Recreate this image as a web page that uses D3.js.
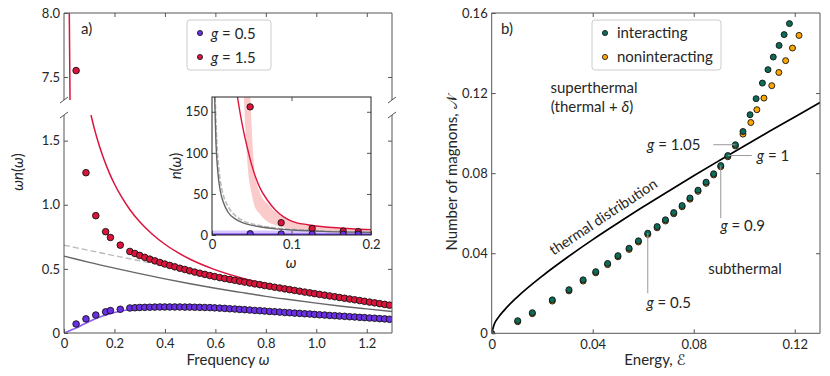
<!DOCTYPE html>
<html lang="en">
<head>
<meta charset="UTF-8">
<title>Magnon distributions</title>
<script src="https://cdn.jsdelivr.net/npm/d3@7"></script>
<style>
  body { margin: 0; background: #fff; }
  text { font-family: Lato, "DejaVu Sans", sans-serif; fill: #262626; }
</style>
</head>
<body>
<svg id="fig" width="830" height="376"></svg>
<script>
// ---------- panel a data ----------
const freq = [0.048, 0.087, 0.126, 0.165, 0.184, 0.223,
  0.261, 0.281, 0.300, 0.320, 0.340, 0.360, 0.380, 0.399, 0.419, 0.439, 0.459, 0.479, 0.498, 0.518,
  0.538, 0.558, 0.578, 0.597, 0.617, 0.637, 0.657, 0.677, 0.696, 0.716, 0.736, 0.756, 0.776, 0.795,
  0.815, 0.835, 0.855, 0.875, 0.894, 0.914, 0.934, 0.954, 0.974, 0.993, 1.013, 1.033, 1.053, 1.073,
  1.092, 1.112, 1.132, 1.152, 1.172, 1.191, 1.211, 1.231, 1.251, 1.271, 1.290];
const redWN = [7.55, 1.25, 0.915, 0.79, 0.745, 0.685,
  0.636, 0.620, 0.605, 0.590, 0.576, 0.563, 0.550, 0.538, 0.527, 0.516, 0.505, 0.495, 0.485, 0.475,
  0.466, 0.457, 0.448, 0.440, 0.432, 0.425, 0.418, 0.411, 0.404, 0.397, 0.390, 0.383, 0.377, 0.370,
  0.364, 0.357, 0.351, 0.344, 0.338, 0.332, 0.326, 0.319, 0.313, 0.307, 0.301, 0.295, 0.289, 0.283,
  0.277, 0.271, 0.265, 0.259, 0.253, 0.247, 0.241, 0.235, 0.229, 0.223, 0.217];
const purpleWN = [0.07, 0.11, 0.14, 0.165, 0.175, 0.185,
  0.195, 0.197, 0.199, 0.200, 0.201, 0.202, 0.203, 0.203, 0.203, 0.203, 0.203, 0.202, 0.202, 0.201,
  0.200, 0.199, 0.198, 0.196, 0.194, 0.192, 0.189, 0.187, 0.184, 0.182, 0.179, 0.176, 0.174, 0.171,
  0.168, 0.166, 0.163, 0.160, 0.158, 0.155, 0.153, 0.150, 0.148, 0.145, 0.142, 0.140, 0.137, 0.135,
  0.132, 0.130, 0.127, 0.125, 0.122, 0.120, 0.117, 0.115, 0.112, 0.110, 0.107];

const purpleLineW = [0, 0.025, 0.05, 0.075, 0.1, 0.15, 0.2, 0.25, 0.3, 0.4, 0.5, 0.6, 0.8, 1.0, 1.2, 1.3];
const purpleLineV = [0, 0.02, 0.04, 0.066, 0.09, 0.13, 0.16, 0.18, 0.19, 0.197, 0.195, 0.188, 0.168, 0.145, 0.12, 0.108];

const grayW = [0, 0.05, 0.1, 0.2, 0.3, 0.4, 0.5, 0.6, 0.7, 0.8, 0.9, 1.0, 1.1, 1.2, 1.3];
const graySolid = [0.6, 0.575, 0.551, 0.506, 0.463, 0.422, 0.384, 0.349, 0.317, 0.286, 0.259, 0.233, 0.209, 0.188, 0.168];
const grayDashed = [0.685, 0.664, 0.644, 0.603, 0.563, 0.525, 0.49, 0.445, 0.41, 0.375, 0.345, 0.31, 0.28, 0.25, 0.22];

const redLineW = [0.107, 0.12, 0.14, 0.16, 0.18, 0.20, 0.23, 0.26, 0.30, 0.35, 0.40, 0.45, 0.50, 0.59, 0.70, 0.80, 0.90, 1.00, 1.10, 1.20, 1.30];
const redLineV = [1.70, 1.596, 1.46, 1.345, 1.247, 1.162, 1.055, 0.965, 0.867, 0.770, 0.692, 0.628, 0.575, 0.50, 0.431, 0.382, 0.344, 0.312, 0.283, 0.256, 0.232];
const redTopW = [0.021, 0.0225, 0.024];
const redTopV = [8.0, 7.65, 7.3];

// inset: n(omega)
const insetW = [0.048, 0.087, 0.126, 0.165, 0.184];
const insetRedN = [156, 15, 8, 4.8, 4.1];
const insetPurpleN = [1.5, 1.3, 1.1, 1.0, 0.95];
const inGrayW = [0.0033, 0.005, 0.0075, 0.01, 0.015, 0.02, 0.03, 0.04, 0.06, 0.08, 0.1, 0.14, 0.2];
const inGrayN = [168, 112, 75, 56, 38, 28, 19, 14.5, 10, 7.5, 6, 4.4, 3.2];
const inDashW = [0.004, 0.006, 0.008, 0.01, 0.015, 0.02, 0.03, 0.04, 0.06, 0.08, 0.1, 0.14, 0.2];
const inDashN = [168, 114, 86, 69, 46, 35, 23, 17, 11.5, 8.6, 7, 5, 3.6];
const inRedW = [0.032, 0.036, 0.040, 0.045, 0.05, 0.055, 0.06, 0.07, 0.08, 0.09, 0.1, 0.12, 0.14, 0.16, 0.18, 0.2];
const inRedN = [168, 145, 125, 104, 85, 70, 58, 42, 30, 22, 17, 12.5, 10, 8.5, 7.3, 6.5];
const bandW = [0.040, 0.043, 0.0457, 0.05, 0.054, 0.06, 0.07, 0.08, 0.1, 0.12, 0.15, 0.2];
const bandLo = [168, 110, 75, 50, 34, 26, 16, 12, 7.5, 6, 4.5, 3.5];
const bandHi = [600, 400, 250, 130, 75, 52, 38, 28, 17, 13, 9, 6];
const purpleBandW = [0, 0.2];
const purpleBandHi = [5.5, 5];
const purpleInLineN = [1.0, 0.85];

// ---------- panel b data ----------
const interE = [0, 0.0103, 0.0161, 0.0240, 0.0306, 0.0362, 0.0412, 0.0459, 0.0500, 0.0544, 0.0581, 0.0618,
  0.0655, 0.0688, 0.0721, 0.0754, 0.0785, 0.0817, 0.0849, 0.0879, 0.0907, 0.0935, 0.0965, 0.0995,
  0.1023, 0.1047, 0.1072, 0.1094, 0.1115, 0.1138, 0.1158, 0.1179];
const interN = [0, 0.0063, 0.0103, 0.0167, 0.0218, 0.0267, 0.0308, 0.0349, 0.0388, 0.0425, 0.0462, 0.0500,
  0.0533, 0.0567, 0.0603, 0.0638, 0.0676, 0.0715, 0.0755, 0.0797, 0.0838, 0.0888, 0.0942, 0.1008,
  0.1092, 0.1172, 0.1250, 0.1317, 0.1380, 0.1438, 0.1492, 0.1547];
const nonE = [0.0103, 0.0161, 0.0240, 0.0306, 0.0362, 0.0412, 0.0459, 0.0500, 0.0544, 0.0581, 0.0618,
  0.0655, 0.0688, 0.0721, 0.0754, 0.0785, 0.0817, 0.0849, 0.0879, 0.0907, 0.0935, 0.0965, 0.0995,
  0.1026, 0.1050, 0.1078, 0.1109, 0.1137, 0.1164, 0.1191, 0.1217];
const nonN = [0.0058, 0.0098, 0.0161, 0.0212, 0.0261, 0.0302, 0.0343, 0.0382, 0.0419, 0.0456, 0.0494,
  0.0527, 0.0561, 0.0597, 0.0632, 0.0670, 0.0709, 0.0749, 0.0791, 0.0832, 0.0882, 0.0936, 0.0995,
  0.1053, 0.1117, 0.1175, 0.1237, 0.1303, 0.1362, 0.1425, 0.1488];
const thermE = [0, 0.001, 0.0025, 0.005, 0.01, 0.02, 0.03, 0.04, 0.05, 0.06, 0.07, 0.08, 0.09, 0.10, 0.11, 0.12, 0.13];
const thermN = [0, 0.0045, 0.0077, 0.0116, 0.0180, 0.0286, 0.0380, 0.0468, 0.0551, 0.0632, 0.0710, 0.0787, 0.0862, 0.0936, 0.1009, 0.1081, 0.1153];

// ---------- setup ----------
const svg = d3.select("#fig");
const PURPLE = "#6b2fe6", RED = "#dc143c", GREEN = "#0e6b58", ORANGE = "#ffa500";
const SPINE = "#555";
const zip = (a, b) => a.map((v, i) => [v, b[i]]);

const defs = svg.append("defs");
function clip(id, x, y, w, h) {
  defs.append("clipPath").attr("id", id).append("rect").attr("x", x).attr("y", y).attr("width", w).attr("height", h);
}
function spine(x1, y1, x2, y2) {
  svg.append("line").attr("x1", x1).attr("y1", y1).attr("x2", x2).attr("y2", y2)
    .attr("stroke", SPINE).attr("stroke-width", 1);
}
function styleAxis(g, labels) {
  g.select(".domain").remove();
  g.selectAll(".tick line").attr("stroke", SPINE);
  g.selectAll(".tick text").style("font-size", "13px").attr("fill", "#262626");
  if (!labels) g.selectAll(".tick text").remove();
}
function dots(g, data, sx, sy, fill, r) {
  g.selectAll(null).data(data).join("circle")
    .attr("cx", d => sx(d[0])).attr("cy", d => sy(d[1])).attr("r", r)
    .attr("fill", fill).attr("stroke", "#111").attr("stroke-width", 0.9);
}
const fmt0 = f => d => d === 0 ? "0" : d3.format(f)(d);

// ---------- panel a ----------
const ax = d3.scaleLinear().domain([0, 1.3]).range([64, 392]);
const ayLow = d3.scaleLinear().domain([0, 1.7]).range([333, 115]);
const ayTop = d3.scaleLinear().domain([7.32, 8.0]).range([100, 13]);
clip("clipLow", 64, 115, 328, 218);
clip("clipTop", 64, 13, 328, 87);

const lineLow = d3.line().x(d => ax(d[0])).y(d => ayLow(d[1])).curve(d3.curveMonotoneX);
const gLow = svg.append("g").attr("clip-path", "url(#clipLow)");
gLow.append("path").attr("d", lineLow(zip(purpleLineW, purpleLineV)))
  .attr("fill", "none").attr("stroke", "#8a5cf5").attr("stroke-width", 1.6);
gLow.append("path").attr("d", lineLow(zip(grayW, graySolid)))
  .attr("fill", "none").attr("stroke", "#666").attr("stroke-width", 1.4);
gLow.append("path").attr("d", lineLow(zip(grayW, grayDashed)))
  .attr("fill", "none").attr("stroke", "#bbb").attr("stroke-width", 1.4).attr("stroke-dasharray", "6,3");
gLow.append("path").attr("d", lineLow(zip(redLineW, redLineV)))
  .attr("fill", "none").attr("stroke", RED).attr("stroke-width", 1.5);
dots(gLow, zip(freq, redWN).filter(d => d[1] < 1.7), ax, ayLow, RED, 3.3);
dots(gLow, zip(freq, purpleWN), ax, ayLow, PURPLE, 3.3);

const gTop = svg.append("g").attr("clip-path", "url(#clipTop)");
gTop.append("path").attr("d", d3.line().x(d => ax(d[0])).y(d => ayTop(d[1]))(zip(redTopW, redTopV)))
  .attr("fill", "none").attr("stroke", RED).attr("stroke-width", 1.5);
dots(gTop, zip(freq, redWN).filter(d => d[1] > 7.32), ax, ayTop, RED, 3.3);

// axes a (inward ticks)
styleAxis(svg.append("g").attr("transform", "translate(0,333)")
  .call(d3.axisBottom(ax).tickValues([0, 0.2, 0.4, 0.6, 0.8, 1.0, 1.2]).tickFormat(fmt0(".1f")).tickSize(-4).tickPadding(6)), true);
styleAxis(svg.append("g").attr("transform", "translate(64,0)")
  .call(d3.axisLeft(ayLow).tickValues([0, 0.5, 1.0, 1.5]).tickFormat(fmt0(".1f")).tickSize(-4).tickPadding(4)), true);
styleAxis(svg.append("g").attr("transform", "translate(392,0)")
  .call(d3.axisRight(ayLow).tickValues([0.5, 1.0, 1.5]).tickSize(-4)), false);
styleAxis(svg.append("g").attr("transform", "translate(64,0)")
  .call(d3.axisLeft(ayTop).tickValues([7.5, 8.0]).tickFormat(d3.format(".1f")).tickSize(-4).tickPadding(4)), true);
styleAxis(svg.append("g").attr("transform", "translate(392,0)")
  .call(d3.axisRight(ayTop).tickValues([7.5]).tickSize(-4)), false);
styleAxis(svg.append("g").attr("transform", "translate(0,13)")
  .call(d3.axisTop(ax).tickValues([0.2, 0.4, 0.6, 0.8, 1.0, 1.2]).tickSize(-4)), false);

spine(64, 13, 392, 13); spine(64, 13, 64, 100); spine(392, 13, 392, 100);
spine(64, 333, 392, 333); spine(64, 115, 64, 333); spine(392, 115, 392, 333);
// break marks
[64, 392].forEach(x => {
  [100, 115].forEach(y => spine(x - 4, y + 3, x + 4, y - 3));
});

// legend a
svg.append("rect").attr("x", 187).attr("y", 20).attr("width", 84).attr("height", 50).attr("rx", 3)
  .attr("fill", "#fff").attr("fill-opacity", 0.8).attr("stroke", "#ccc");
[[PURPLE, "0.5", 33], [RED, "1.5", 57]].forEach(([c, v, y]) => {
  svg.append("circle").attr("cx", 200).attr("cy", y).attr("r", 2.6).attr("fill", c).attr("stroke", "#111").attr("stroke-width", 0.8);
  const t = svg.append("text").attr("x", 211).attr("y", y + 5.5).style("font-size", "15px");
  t.append("tspan").style("font-style", "italic").text("g");
  t.append("tspan").text(" = " + v);
});
svg.append("text").attr("x", 81).attr("y", 34).style("font-size", "15px").text("a)");

// axis labels a
const xl = svg.append("text").attr("x", 228).attr("y", 365).attr("text-anchor", "middle").style("font-size", "15px");
xl.append("tspan").text("Frequency ");
xl.append("tspan").style("font-style", "italic").text("ω");
const yl = svg.append("text").attr("transform", "translate(23,172) rotate(-90)").attr("text-anchor", "middle").style("font-size", "15px");
yl.append("tspan").style("font-style", "italic").text("ωn");
yl.append("tspan").text("(");
yl.append("tspan").style("font-style", "italic").text("ω");
yl.append("tspan").text(")");

// ---------- inset ----------
const ix = d3.scaleLinear().domain([0, 0.2]).range([212, 371]);
const iy = d3.scaleLinear().domain([0, 168]).range([235, 97]);
clip("clipIn", 212, 97, 159, 138);
svg.append("rect").attr("x", 212).attr("y", 97).attr("width", 159).attr("height", 138).attr("fill", "#fff");
const gIn = svg.append("g").attr("clip-path", "url(#clipIn)");
const iline = d3.line().x(d => ix(d[0])).y(d => iy(d[1])).curve(d3.curveMonotoneX);
gIn.append("path").datum(zip(purpleBandW, purpleBandHi))
  .attr("d", d3.area().x(d => ix(d[0])).y0(iy(0)).y1(d => iy(d[1])))
  .attr("fill", "#c9b6ff").attr("opacity", 0.8);
gIn.append("path").datum(bandW.map((w, i) => [w, bandLo[i], bandHi[i]]))
  .attr("d", d3.area().x(d => ix(d[0])).y0(d => iy(d[1])).y1(d => iy(d[2])).curve(d3.curveMonotoneX))
  .attr("fill", "#f9b8b8").attr("opacity", 0.75);
gIn.append("path").attr("d", iline(zip(inDashW, inDashN)))
  .attr("fill", "none").attr("stroke", "#bbb").attr("stroke-width", 1.6).attr("stroke-dasharray", "5,2");
gIn.append("path").attr("d", iline(zip(inGrayW, inGrayN)))
  .attr("fill", "none").attr("stroke", "#666").attr("stroke-width", 1.4);
gIn.append("path").attr("d", iline(zip(purpleBandW, purpleInLineN)))
  .attr("fill", "none").attr("stroke", PURPLE).attr("stroke-width", 1.4);
gIn.append("path").attr("d", iline(zip(inRedW, inRedN)))
  .attr("fill", "none").attr("stroke", RED).attr("stroke-width", 1.4);
dots(gIn, zip(insetW, insetRedN), ix, iy, RED, 3.2);
dots(gIn, zip(insetW, insetPurpleN), ix, iy, PURPLE, 3.2);

styleAxis(svg.append("g").attr("transform", "translate(0,235)")
  .call(d3.axisBottom(ix).tickValues([0, 0.1, 0.2]).tickFormat(fmt0(".1f")).tickSize(-4).tickPadding(5)), true);
styleAxis(svg.append("g").attr("transform", "translate(0,97)")
  .call(d3.axisTop(ix).tickValues([0.1]).tickSize(-4)), false);
styleAxis(svg.append("g").attr("transform", "translate(212,0)")
  .call(d3.axisLeft(iy).tickValues([0, 50, 100, 150]).tickSize(-4).tickPadding(4)), true);
styleAxis(svg.append("g").attr("transform", "translate(371,0)")
  .call(d3.axisRight(iy).tickValues([50, 100, 150]).tickSize(-4)), false);
svg.append("rect").attr("x", 212).attr("y", 97).attr("width", 159).attr("height", 138)
  .attr("fill", "none").attr("stroke", "#222").attr("stroke-width", 1);
svg.append("text").attr("x", 291).attr("y", 268).attr("text-anchor", "middle")
  .style("font-size", "15px").style("font-style", "italic").text("ω");
const iyl = svg.append("text").attr("transform", "translate(181,166) rotate(-90)").attr("text-anchor", "middle").style("font-size", "15px");
iyl.append("tspan").style("font-style", "italic").text("n");
iyl.append("tspan").text("(");
iyl.append("tspan").style("font-style", "italic").text("ω");
iyl.append("tspan").text(")");

// ---------- panel b ----------
const bx = d3.scaleLinear().domain([0, 0.13]).range([491.7, 820]);
const by = d3.scaleLinear().domain([0, 0.16]).range([333.3, 13]);
clip("clipB", 491.7, 13, 328.3, 320.3);
const gB = svg.append("g").attr("clip-path", "url(#clipB)");
gB.append("path").attr("d", d3.line().x(d => bx(d[0])).y(d => by(d[1])).curve(d3.curveMonotoneX)(zip(thermE, thermN)))
  .attr("fill", "none").attr("stroke", "#000").attr("stroke-width", 1.7);
dots(gB, zip(nonE, nonN), bx, by, ORANGE, 3);
dots(gB, zip(interE, interN), bx, by, GREEN, 3);

styleAxis(svg.append("g").attr("transform", "translate(0,333.3)")
  .call(d3.axisBottom(bx).tickValues([0, 0.04, 0.08, 0.12]).tickFormat(fmt0(".2f")).tickSize(-4).tickPadding(6)), true);
styleAxis(svg.append("g").attr("transform", "translate(0,13)")
  .call(d3.axisTop(bx).tickValues([0.04, 0.08, 0.12]).tickSize(-4)), false);
styleAxis(svg.append("g").attr("transform", "translate(491.7,0)")
  .call(d3.axisLeft(by).tickValues([0, 0.04, 0.08, 0.12, 0.16]).tickFormat(fmt0(".2f")).tickSize(-4).tickPadding(4)), true);
styleAxis(svg.append("g").attr("transform", "translate(820,0)")
  .call(d3.axisRight(by).tickValues([0.04, 0.08, 0.12]).tickSize(-4)), false);
spine(491.7, 13, 820, 13); spine(491.7, 333.3, 820, 333.3);
spine(491.7, 13, 491.7, 333.3); spine(820, 13, 820, 333.3);

// annotations b
const ANN = "#999";
function annLine(x1, y1, x2, y2) {
  svg.append("line").attr("x1", x1).attr("y1", y1).attr("x2", x2).attr("y2", y2).attr("stroke", ANN).attr("stroke-width", 1);
}
function gText(x, y, v, anchor) {
  const t = svg.append("text").attr("x", x).attr("y", y).attr("text-anchor", anchor).style("font-size", "15px");
  t.append("tspan").style("font-style", "italic").text("g");
  t.append("tspan").text(" = " + v);
}
const p105 = [bx(interE[22]), by(interN[22])];
const p1 = [bx(interE[21]), by(interN[21])];
const p09 = [bx(interE[20]), by(interN[20])];
const p05 = [bx(interE[11]), by(interN[11])];
annLine(p105[0] - 22, p105[1], p105[0], p105[1]);
gText(p105[0] - 35, p105[1] + 5, "1.05", "end");
annLine(p1[0], p1[1], p1[0] + 24, p1[1]);
gText(p1[0] + 29, p1[1] + 5, "1", "start");
annLine(p09[0], p09[1], p09[0], by(0.0575));
gText(p09[0] + 22, by(0.0509), "0.9", "middle");
annLine(p05[0], p05[1], p05[0], by(0.020));
gText(p05[0] + 21, by(0.0127), "0.5", "middle");

svg.append("text").attr("x", 594).attr("y", 93).attr("text-anchor", "middle").style("font-size", "15px").text("superthermal");
const st = svg.append("text").attr("x", 592).attr("y", 112).attr("text-anchor", "middle").style("font-size", "15px");
st.append("tspan").text("(thermal + ");
st.append("tspan").style("font-style", "italic").text("δ");
st.append("tspan").text(")");
svg.append("text").attr("x", 745).attr("y", 274).attr("text-anchor", "middle").style("font-size", "15px").text("subthermal");
svg.append("text").attr("transform", "translate(606,221) rotate(-33.5)").attr("text-anchor", "middle")
  .style("font-size", "14.5px").text("thermal distribution");

// legend b
svg.append("rect").attr("x", 592).attr("y", 20).attr("width", 129).attr("height", 50).attr("rx", 3)
  .attr("fill", "#fff").attr("fill-opacity", 0.8).attr("stroke", "#ccc");
[[GREEN, "interacting", 33], [ORANGE, "noninteracting", 57]].forEach(([c, s, y]) => {
  svg.append("circle").attr("cx", 605).attr("cy", y).attr("r", 2.6).attr("fill", c).attr("stroke", "#111").attr("stroke-width", 0.8);
  svg.append("text").attr("x", 617).attr("y", y + 5).style("font-size", "15px").text(s);
});
svg.append("text").attr("x", 501).attr("y", 34).style("font-size", "15px").text("b)");

const bxl = svg.append("text").attr("x", 655).attr("y", 365).attr("text-anchor", "middle").style("font-size", "15px");
bxl.append("tspan").text("Energy, ");
bxl.append("tspan").style("font-family", "'DejaVu Serif', 'DejaVu Sans', serif").text("ℰ");
const byl = svg.append("text").attr("transform", "translate(457,173) rotate(-90)").attr("text-anchor", "middle").style("font-size", "15px");
byl.append("tspan").text("Number of magnons, ");
byl.append("tspan").style("font-family", "'DejaVu Serif', 'DejaVu Sans', serif").text("𝒩");
</script>
</body>
</html>
